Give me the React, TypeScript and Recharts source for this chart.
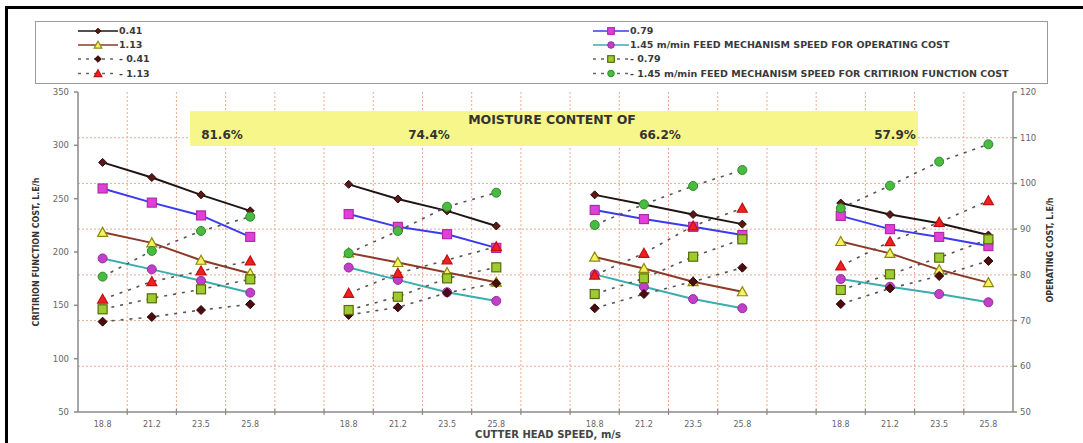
import React from 'react';
import { LineChart, Line, XAxis, YAxis, CartesianGrid } from 'recharts';

// cutter head speeds, m/s (repeated for every moisture content group)
const speeds = ['18.8', '21.2', '23.5', '25.8'];
const moistureLabels = ['81.6%', '74.4%', '66.2%', '57.9%'];

// operating cost, L.E/h, per feed mechanism speed (m/min)
const opCost041 = [104.6, 101.3, 97.5, 94.0, 99.8, 96.6, 94.0, 90.7, 97.5, 95.4, 93.2, 91.1, 95.7, 93.2, 91.3, 88.7];
const opCost079 = [98.9, 95.8, 93.0, 88.3, 93.3, 90.5, 88.9, 85.9, 94.2, 92.2, 90.5, 88.7, 92.9, 90.0, 88.3, 86.3];
const opCost113 = [89.3, 87.0, 83.2, 80.3, 84.8, 82.7, 80.5, 78.4, 83.9, 81.4, 78.5, 76.3, 87.3, 84.7, 81.1, 78.3];
const opCost145 = [83.6, 81.2, 78.7, 76.1, 81.6, 78.9, 76.2, 74.3, 80.1, 77.4, 74.7, 72.7, 79.1, 77.4, 75.8, 74.0];

// criterion function cost, L.E/h
const cfCost041 = [134.7, 139.1, 145.6, 151.0, 141.0, 148.1, 161.8, 170.6, 147.2, 160.6, 172.2, 185.3, 151.2, 165.9, 177.5, 191.6];
const cfCost079 = [146.3, 156.6, 165.0, 174.4, 145.6, 158.1, 175.3, 185.6, 160.6, 175.3, 195.6, 211.9, 164.4, 179.1, 194.7, 211.9];
const cfCost113 = [155.7, 172.2, 182.2, 191.6, 161.3, 180.0, 192.5, 205.0, 178.4, 198.8, 224.4, 241.0, 186.9, 209.7, 227.8, 248.1];
const cfCost145 = [176.9, 201.0, 219.7, 233.1, 198.8, 219.7, 242.5, 255.6, 225.3, 244.7, 261.9, 276.9, 241.0, 262.2, 284.7, 301.0];

const leftTicks = [50, 100, 150, 200, 250, 300, 350];
const rightTicks = [50, 60, 70, 80, 90, 100, 110, 120];

// 4 groups of 4 speeds with an empty slot between groups
const rows: any[] = [];
moistureLabels.forEach((_, g) => {
  speeds.forEach((s, i) => {
    const k = g * 4 + i;
    rows.push({
      pos: rows.length,
      speed: s,
      op041: opCost041[k],
      op079: opCost079[k],
      op113: opCost113[k],
      op145: opCost145[k],
      cf041: cfCost041[k],
      cf079: cfCost079[k],
      cf113: cfCost113[k],
      cf145: cfCost145[k],
    });
  });
  if (g < moistureLabels.length - 1) rows.push({ pos: rows.length, speed: '' });
});

const W = 1083;
const H = 443;
const PLOT_LEFT = 78;
const PLOT_RIGHT = 1013;
const PLOT_TOP = 92;
const PLOT_BOTTOM = 412;
const BAND = (PLOT_RIGHT - PLOT_LEFT) / rows.length;
const FONT = 'DejaVu Sans, Arial, sans-serif';
const AXIS_GREY = '#8a8a8a';

type Shape = 'diamond' | 'square' | 'triangle' | 'circle';

function Marker({ shape, cx, cy, r, fill, stroke }: { shape: Shape; cx: number; cy: number; r: number; fill: string; stroke: string }) {
  if (shape === 'diamond') {
    return <polygon points={`${cx},${cy - r} ${cx + r},${cy} ${cx},${cy + r} ${cx - r},${cy}`} fill={fill} stroke={stroke} strokeWidth={1} />;
  }
  if (shape === 'square') {
    return <rect x={cx - r} y={cy - r} width={2 * r} height={2 * r} fill={fill} stroke={stroke} strokeWidth={1.2} />;
  }
  if (shape === 'triangle') {
    return <polygon points={`${cx},${cy - r} ${cx + r},${cy + r * 0.8} ${cx - r},${cy + r * 0.8}`} fill={fill} stroke={stroke} strokeWidth={1.2} />;
  }
  return <circle cx={cx} cy={cy} r={r} fill={fill} stroke={stroke} strokeWidth={1} />;
}

const makeDot = (shape: Shape, r: number, fill: string, stroke: string) => (p: any) => {
  const key = `${p.dataKey}-${p.index}`;
  if (p.cx == null || p.cy == null || p.value == null) return <g key={key} />;
  return (
    <g key={key}>
      <Marker shape={shape} cx={p.cx} cy={p.cy} r={r} fill={fill} stroke={stroke} />
    </g>
  );
};

interface SeriesDef {
  key: string;
  label: string;
  axis: 'op' | 'cf';
  color: string;
  dashed: boolean;
  shape: Shape;
  r: number;
  fill: string;
  stroke: string;
}

const series: SeriesDef[] = [
  { key: 'op041', label: '0.41', axis: 'op', color: '#1e1414', dashed: false, shape: 'diamond', r: 4, fill: '#5a1818', stroke: '#2a0808' },
  { key: 'op079', label: '0.79', axis: 'op', color: '#3a3af0', dashed: false, shape: 'square', r: 4.5, fill: '#e040d8', stroke: '#b02aa8' },
  { key: 'op113', label: '1.13', axis: 'op', color: '#8c3a28', dashed: false, shape: 'triangle', r: 5, fill: '#f6f260', stroke: '#8a8a10' },
  { key: 'op145', label: '1.45 m/min FEED MECHANISM SPEED FOR OPERATING COST', axis: 'op', color: '#3aaeae', dashed: false, shape: 'circle', r: 4.5, fill: '#c040c8', stroke: '#9a2aa0' },
  { key: 'cf041', label: '- 0.41', axis: 'cf', color: '#555', dashed: true, shape: 'diamond', r: 4.5, fill: '#4a0c0c', stroke: '#2a0505' },
  { key: 'cf079', label: '- 0.79', axis: 'cf', color: '#555', dashed: true, shape: 'square', r: 4.5, fill: '#9ccc30', stroke: '#5a6a08' },
  { key: 'cf113', label: '- 1.13', axis: 'cf', color: '#555', dashed: true, shape: 'triangle', r: 5, fill: '#ee2020', stroke: '#c01010' },
  { key: 'cf145', label: '- 1.45 m/min FEED MECHANISM SPEED FOR CRITIRION FUNCTION COST', axis: 'cf', color: '#555', dashed: true, shape: 'circle', r: 4.5, fill: '#48bb40', stroke: '#2e8a28' },
];

// legend order: left column then right column, row by row
const legendLayout = [
  { key: 'op041', col: 0, row: 0 },
  { key: 'op079', col: 1, row: 0 },
  { key: 'op113', col: 0, row: 1 },
  { key: 'op145', col: 1, row: 1 },
  { key: 'cf041', col: 0, row: 2 },
  { key: 'cf079', col: 1, row: 2 },
  { key: 'cf113', col: 0, row: 3 },
  { key: 'cf145', col: 1, row: 3 },
];

function SpeedTick(props: any) {
  const { x, payload } = props;
  const row = rows[payload.value];
  const left = x - BAND / 2;
  return (
    <g>
      {payload.value > 0 && <line x1={left} x2={left} y1={PLOT_BOTTOM - 3} y2={PLOT_BOTTOM + 3} stroke={AXIS_GREY} strokeWidth={1.2} />}
      <text x={x} y={PLOT_BOTTOM + 15} textAnchor="middle" fontSize={8} fontFamily={FONT} fill="#666">
        {row ? row.speed : ''}
      </text>
    </g>
  );
}

function LegendBox() {
  const colX = [42, 557];
  const rowY = [9, 23, 37, 51.5];
  return (
    <svg width={1011} height={61} style={{ position: 'absolute', left: 35, top: 21, border: '1px solid #9a9a9a', background: '#fff' }}>
      {legendLayout.map(({ key, col, row }) => {
        const s = series.find((d) => d.key === key)!;
        const x0 = colX[col];
        const y = rowY[row];
        const len = col === 0 ? 40 : 36;
        return (
          <g key={key}>
            <line x1={x0} x2={x0 + len} y1={y} y2={y} stroke={s.dashed ? '#666' : s.color} strokeWidth={1.6} strokeDasharray={s.dashed ? '3 5' : undefined} />
            <Marker shape={s.shape} cx={x0 + len / 2} cy={y} r={s.r - 1.2} fill={s.fill} stroke={s.stroke} />
            <text x={x0 + len + 1} y={y + 3.3} fontSize={9.5} fontWeight="bold" fontFamily={FONT} fill="#3a3a3a">
              {s.label}
            </text>
          </g>
        );
      })}
    </svg>
  );
}

function Annotations() {
  const pctX = [222, 429, 660, 895];
  return (
    <svg width={W} height={H} style={{ position: 'absolute', left: 0, top: 0, pointerEvents: 'none' }}>
      <rect x={190} y={111} width={728} height={35} fill="#f6f68a" />
      <text x={552} y={124} textAnchor="middle" fontSize={12.5} fontWeight="bold" fontFamily={FONT} fill="#333">
        MOISTURE CONTENT OF
      </text>
      {moistureLabels.map((m, i) => (
        <text key={m} x={pctX[i]} y={139} textAnchor="middle" fontSize={12} fontWeight="bold" fontFamily={FONT} fill="#333">
          {m}
        </text>
      ))}
      <text transform={`translate(39, 252) rotate(-90)`} textAnchor="middle" fontSize={8} fontWeight="bold" fontFamily={FONT} fill="#333">
        CRITIRION FUNCTION COST, L.E/h
      </text>
      <text transform={`translate(1053, 250) rotate(-90)`} textAnchor="middle" fontSize={8} fontWeight="bold" fontFamily={FONT} fill="#333">
        OPERATING COST, L.E/h
      </text>
      <text x={548} y={438} textAnchor="middle" fontSize={10} fontWeight="bold" fontFamily={FONT} fill="#444">
        CUTTER HEAD SPEED, m/s
      </text>
    </svg>
  );
}

export default function App() {
  return (
    <div style={{ position: 'absolute', left: 0, top: 0, width: W, height: H, overflow: 'hidden', background: '#fff' }}>
      <div style={{ position: 'absolute', left: 5, top: 6, width: W - 5, height: H - 6, borderTop: '3px solid #000', borderLeft: '3px solid #000', boxSizing: 'border-box' }} />
      <div style={{ position: 'absolute', left: 0, top: 0 }}>
        <LineChart width={W} height={H} data={rows} margin={{ top: PLOT_TOP, bottom: H - PLOT_BOTTOM - 20, left: PLOT_LEFT - 40, right: W - PLOT_RIGHT - 40 }}>
          <CartesianGrid
            stroke="#efa98c"
            strokeDasharray="2 2"
            horizontalCoordinatesGenerator={({ offset }: any) => [1, 2, 3, 4, 5, 6].map((i) => offset.top + (offset.height * i) / 7)}
            verticalCoordinatesGenerator={({ offset }: any) => Array.from({ length: rows.length - 1 }, (_, i) => offset.left + (offset.width * (i + 1)) / rows.length)}
          />
          <XAxis
            dataKey="pos"
            type="category"
            height={20}
            interval={0}
            padding={{ left: BAND / 2, right: BAND / 2 }}
            tickLine={false}
            tick={<SpeedTick />}
            stroke={AXIS_GREY}
            strokeWidth={1.5}
          />
          <YAxis yAxisId="cf" orientation="left" width={40} domain={[50, 350]} ticks={leftTicks} tickSize={4} tickMargin={5} stroke={AXIS_GREY} strokeWidth={1.5} tick={{ fontSize: 8.5, fill: '#666', fontFamily: FONT }} />
          <YAxis yAxisId="op" orientation="right" width={40} domain={[50, 120]} ticks={rightTicks} tickSize={4} tickMargin={3} stroke={AXIS_GREY} strokeWidth={1.5} tick={{ fontSize: 8.5, fill: '#666', fontFamily: FONT }} />
          {series.map((s) => (
            <Line
              key={s.key}
              yAxisId={s.axis}
              dataKey={s.key}
              stroke={s.color}
              strokeWidth={s.dashed ? 1.6 : 2}
              strokeDasharray={s.dashed ? '3 6' : undefined}
              dot={makeDot(s.shape, s.r, s.fill, s.stroke)}
              activeDot={false}
              isAnimationActive={false}
            />
          ))}
        </LineChart>
      </div>
      <LegendBox />
      <Annotations />
    </div>
  );
}
